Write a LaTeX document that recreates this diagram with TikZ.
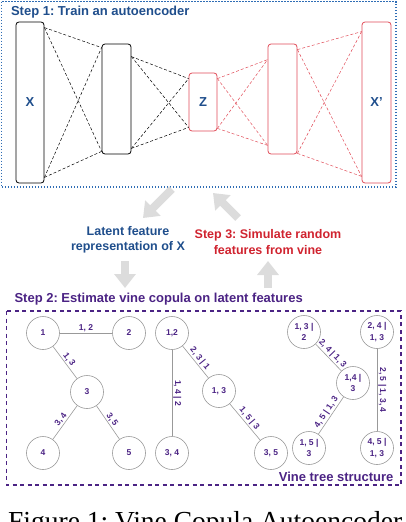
\documentclass[tikz,border=0pt]{standalone}
\usepackage{fontspec}
\setmainfont{Liberation Serif}
\setsansfont{Liberation Sans}
\usetikzlibrary{arrows.meta}
\frenchspacing
\definecolor{aeblue}{HTML}{1F4E8C}
\definecolor{aered}{HTML}{D0232F}
\definecolor{aeline}{HTML}{E04B57}
\definecolor{boxblue}{HTML}{2F6DB5}
\definecolor{vinepurple}{HTML}{4B2384}
\definecolor{flowgray}{HTML}{DCDCDC}
\tikzset{
  layer/.style={draw, rounded corners=3pt, line width=0.8pt, inner sep=0pt,
    text=aeblue, font=\sffamily\bfseries\fontsize{13}{15}\selectfont},
  enclayer/.style={layer, draw=black},
  declayer/.style={layer, draw=aeline},
  encline/.style={densely dashed, line width=0.5pt, black},
  decline/.style={densely dashed, line width=0.5pt, aeline},
  steptitle/.style={anchor=base west, font=\sffamily\bfseries\fontsize{13}{15}\selectfont},
  flowtext/.style={align=center, font=\sffamily\bfseries\fontsize{12.5}{15.5}\selectfont},
  flow/.style={line width=8pt, flowgray, -{Triangle[length=14pt,width=21pt]}},
  vnode/.style={circle, draw=gray!80, line width=0.6pt, minimum size=33pt, inner sep=0pt,
    align=center, text=vinepurple, font=\sffamily\bfseries\fontsize{8.5}{11.5}\selectfont},
  vedge/.style={gray!80, line width=0.6pt},
  vlabel/.style={sloped, above, inner sep=1pt, text=vinepurple,
    font=\sffamily\bfseries\fontsize{8.5}{10}\selectfont},
}
\begin{document}
\begin{tikzpicture}[x=1pt, y=-1pt]
  \useasboundingbox (0,0) rectangle (406,522);
  \clip (0,0) rectangle (406,522);

  % step 1: autoencoder
  \draw[boxblue, line width=1.2pt, dash pattern=on 1.2pt off 1.8pt] (1.5,1.5) rectangle (396,187);
  \node[steptitle, text=aeblue] (step1) at (7.5,16) {Step 1: Train an autoencoder};

  \node[enclayer, minimum width=28pt, minimum height=161pt] (X) at (30,102.5) {X};
  \node[enclayer, minimum width=29pt, minimum height=110pt] (Lb) at (116.5,99) {};
  \node[declayer, minimum width=28pt, minimum height=58pt] (Z) at (203,102) {Z};
  \node[declayer, minimum width=29pt, minimum height=110pt] (Ld) at (282.5,99) {};
  \node[declayer, minimum width=29pt, minimum height=161pt] (Xp) at (376.5,102.5) {X’};

  \foreach \a/\b/\at/\ab/\bt/\bb/\s in {X/Lb/6pt/6pt/4pt/3pt/encline, Lb/Z/13pt/6pt/6pt/4pt/encline,
      Z/Ld/6pt/3pt/16pt/9pt/decline, Ld/Xp/6pt/1pt/10pt/7pt/decline}{
    \draw[\s] ([yshift=-\at]\a.north east) -- ([yshift=-\bt]\b.north west);
    \draw[\s] ([yshift=-\at]\a.north east) -- ([yshift=\bb]\b.south west);
    \draw[\s] ([yshift=\ab]\a.south east) -- ([yshift=-\bt]\b.north west);
    \draw[\s] ([yshift=\ab]\a.south east) -- ([yshift=\bb]\b.south west);
  }

  % flow between the steps
  \node[flowtext, text=aeblue] (latent) at (128,240) {Latent feature\\representation of X};
  \node[flowtext, text=aered] (simulate) at (268,242) {Step 3: Simulate random\\features from vine};
  \coordinate (f1s) at (172,189);
  \coordinate (f1e) at (143,218);
  \coordinate (f2s) at (238,218);
  \coordinate (f2e) at (213,193);
  \coordinate (f3s) at (125,261);
  \coordinate (f3e) at (125,288);
  \coordinate (f4s) at (268,288);
  \coordinate (f4e) at (268,261);
  \draw[flow] (f1s) -- (f1e);
  \draw[flow] (f2s) -- (f2e);
  \draw[flow] (f3s) -- (f3e);
  \draw[flow] (f4s) -- (f4e);

  % step 2: vine copula
  \node[steptitle, text=vinepurple] (step2) at (11,302) {Step 2: Estimate vine copula on latent features};
  \draw[vinepurple, line width=1.8pt, dash pattern=on 4pt off 3.5pt] (6.5,311) rectangle (401,485);

  \node[vnode] (n1) at (43,333) {1};
  \node[vnode] (n2) at (129,333) {2};
  \node[vnode] (n3) at (87,392) {3};
  \node[vnode] (n4) at (43,453) {4};
  \node[vnode] (n5) at (129,453) {5};
  \node[vnode] (n12) at (172,333) {1,2};
  \node[vnode] (n34) at (172,453) {3, 4};
  \node[vnode] (n13) at (219,391) {1, 3};
  \node[vnode] (n35) at (271,453) {3, 5};
  \node[vnode] (n132) at (304,332) {1, 3 |\\2};
  \node[vnode] (n14) at (353,383) {1,4 |\\3};
  \node[vnode] (n15) at (309,448) {1, 5 |\\3};
  \node[vnode] (n24) at (377,332) {2, 4 |\\1, 3};
  \node[vnode] (n45) at (377,448) {4, 5 |\\1, 3};

  \foreach \a/\b/\t in {n1/n2/{1, 2}, n1/n3/{1, 3}, n3/n4/{3, 4}, n3/n5/{3, 5},
      n12/n34/{1, 4 | 2}, n12/n13/{2, 3 | 1}, n13/n35/{1, 5 | 3},
      n132/n14/{2, 4 | 1, 3}, n14/n15/{4, 5 | 1, 3}, n24/n45/{2, 5 | 1, 3, 4}}
    \draw[vedge] (\a) -- node[vlabel] {\t} (\b);

  \node[anchor=base east, text=vinepurple, font=\sffamily\bfseries\fontsize{13}{15}\selectfont] (vinetree) at (397,481) {Vine tree structure};

  % caption
  \node[anchor=base west, inner sep=0pt, font=\rmfamily\fontsize{27.5}{30}\selectfont] (caption) at (8,530) {Figure 1: Vine Copula Autoencoder};
\end{tikzpicture}
\end{document}
